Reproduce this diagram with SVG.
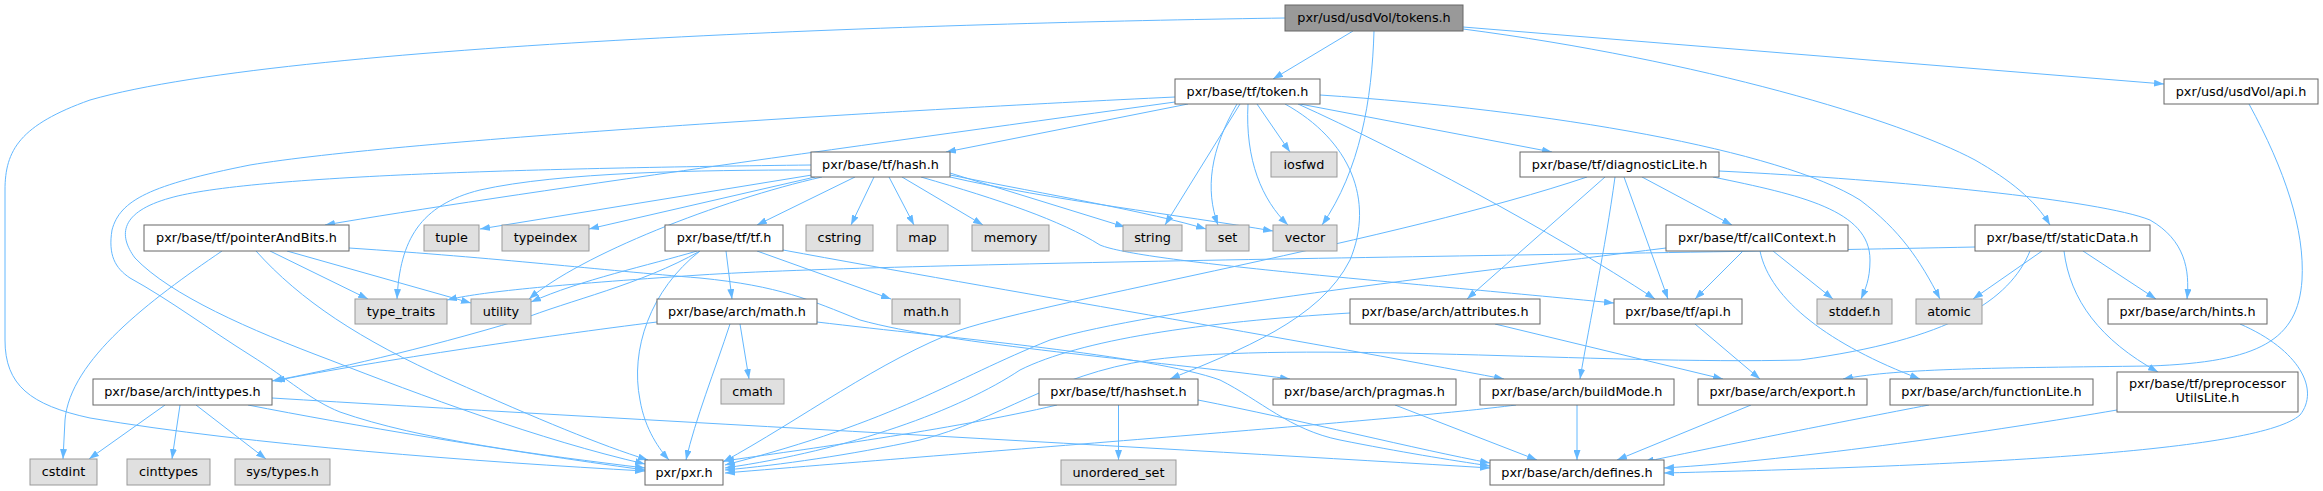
<svg xmlns="http://www.w3.org/2000/svg" width="2323" height="491" viewBox="0 0 2323 491">
<defs>
<marker id="a" viewBox="0 0 10 7" refX="10" refY="3.5" markerWidth="10" markerHeight="7" markerUnits="userSpaceOnUse" orient="auto"><path d="M0,0L10,3.5L0,7z" fill="#63b8ff"/></marker>
</defs>
<style>
.e path{fill:none;stroke:#63b8ff;stroke-width:1;marker-end:url(#a)}
.n rect{fill:#fff;stroke:#666;stroke-width:1}
.g rect{fill:#e0e0e0;stroke:#999;stroke-width:1}
.m rect{fill:#999;stroke:#666;stroke-width:1}
text{font-family:"DejaVu Sans","Liberation Sans",sans-serif;font-size:12.8px;fill:#000;text-anchor:middle}
</style>
<rect width="2323" height="491" fill="#fff"/>
<g class="e" id="edges">
<path d="M1285,18 C1000,22 300,40 90,100 C20,125 5,150 5,190 L5,340 C5,385 30,405 90,418 C250,445 480,462 645,471"/>
<path d="M1353,31 L1273,79"/>
<path d="M1374,31 C1372,100 1360,170 1322,225"/>
<path d="M1463,27 L2164,84"/>
<path d="M1463,29 C1700,60 1900,120 1975,160 C2010,180 2035,200 2050,225"/>
<path d="M2249,104 C2285,170 2305,230 2302,280 C2298,340 2260,362 2150,366 C2000,368 1900,368 1843,379"/>
<path d="M1175,97 C900,110 400,140 250,165 C150,185 120,200 112,230 C108,255 115,268 130,278 C170,300 210,330 250,355 C290,380 310,400 340,412 C420,440 540,455 645,468"/>
<path d="M811,165 C550,168 250,175 170,198 C120,212 118,235 135,258 C170,295 250,330 330,360 C420,395 540,440 645,464"/>
<path d="M811,170 C700,170 560,172 480,190 C420,205 400,240 397,299"/>
<path d="M812,175 L480,229"/>
<path d="M815,177 L589,229"/>
<path d="M822,177 C720,200 580,255 529,299"/>
<path d="M855,177 L757,225"/>
<path d="M874,177 L851,225"/>
<path d="M889,177 L914,225"/>
<path d="M902,177 L983,225"/>
<path d="M950,173 L1125,227"/>
<path d="M950,175 C1050,195 1150,212 1206,229"/>
<path d="M950,177 C1050,200 1180,215 1273,231"/>
<path d="M921,177 C1000,200 1060,220 1100,245 C1140,262 1400,282 1614,303"/>
<path d="M1175,102 C900,140 500,195 325,225"/>
<path d="M1188,104 L946,152"/>
<path d="M1240,104 L1165,225"/>
<path d="M1237,104 C1210,150 1205,190 1218,225"/>
<path d="M1248,104 C1245,160 1262,200 1288,225"/>
<path d="M1257,104 L1290,152"/>
<path d="M1285,104 C1350,140 1375,200 1350,260 C1320,320 1240,350 1170,379"/>
<path d="M1300,104 L1552,152"/>
<path d="M1298,104 C1400,150 1550,230 1655,299"/>
<path d="M1320,95 C1550,110 1780,150 1860,200 C1900,230 1920,260 1940,299"/>
<path d="M1587,177 C1400,240 1050,300 960,330 C880,360 800,420 723,462"/>
<path d="M1605,177 L1467,299"/>
<path d="M1615,177 C1605,250 1590,320 1580,379"/>
<path d="M1624,177 L1668,299"/>
<path d="M1642,177 L1732,225"/>
<path d="M1713,177 C1800,195 1870,210 1870,260 C1870,280 1865,290 1861,299"/>
<path d="M1719,171 C1900,180 2100,200 2150,220 C2185,240 2190,270 2187,299"/>
<path d="M1666,248 C1450,275 1150,310 1050,340 C950,380 900,420 725,465"/>
<path d="M1743,251 L1695,299"/>
<path d="M1773,251 L1833,299"/>
<path d="M1760,251 C1770,300 1830,345 1920,379"/>
<path d="M1975,247 C1600,255 900,262 700,275 C550,285 480,292 447,300"/>
<path d="M2030,251 C2010,300 1950,340 1800,360 C1600,365 1300,340 1150,360 C1050,375 1000,420 920,440 C850,455 780,465 725,470"/>
<path d="M2042,251 L1973,299"/>
<path d="M2083,251 L2156,299"/>
<path d="M2064,251 C2070,300 2100,340 2158,372"/>
<path d="M222,251 C150,300 70,360 65,420 L63,459"/>
<path d="M256,251 C300,300 360,340 450,380 C540,420 600,445 648,460"/>
<path d="M270,251 L368,299"/>
<path d="M287,251 L471,303"/>
<path d="M349,248 C500,258 600,270 700,278 C780,286 810,300 860,320 C950,345 1150,360 1290,379"/>
<path d="M697,251 C650,265 580,280 531,302"/>
<path d="M700,251 C640,285 570,300 520,320 C420,350 330,370 272,381"/>
<path d="M726,251 L732,299"/>
<path d="M757,251 L891,299"/>
<path d="M700,251 C650,290 630,350 640,400 C645,430 660,450 669,460"/>
<path d="M783,250 C1000,290 1300,340 1504,379"/>
<path d="M657,322 C550,335 350,365 275,381"/>
<path d="M740,324 L749,379"/>
<path d="M730,324 C715,370 695,420 686,460"/>
<path d="M817,322 C950,338 1150,355 1220,380 C1260,400 1290,430 1340,440 C1400,452 1450,460 1490,466"/>
<path d="M165,405 L89,459"/>
<path d="M180,405 L172,459"/>
<path d="M196,405 L266,459"/>
<path d="M248,405 C350,425 500,450 645,470"/>
<path d="M272,398 C600,418 1200,450 1490,468"/>
<path d="M1118.5,405 L1118.5,460"/>
<path d="M1057,405 C950,430 800,450 724,461"/>
<path d="M1198,400 C1300,420 1420,450 1490,463"/>
<path d="M1350,313 C1200,322 1080,340 1020,370 C960,410 850,450 725,468"/>
<path d="M1495,324 L1723,379"/>
<path d="M1695,324 L1760,379"/>
<path d="M1516,405 C1400,420 1000,450 725,473"/>
<path d="M1577,405 L1577,460"/>
<path d="M1395,405 L1537,460"/>
<path d="M1751,405 L1617,460"/>
<path d="M1929,405 C1850,420 1700,450 1644,462"/>
<path d="M2117,410 C2000,430 1800,460 1664,468"/>
<path d="M2240,324 C2300,350 2320,390 2300,415 C2260,450 2000,465 1664,473"/>
</g>
<g id="tokens" class="m"><rect x="1285" y="5" width="178" height="26"/><text x="1374" y="22">pxr/usd/usdVol/tokens.h</text></g>
<g id="token" class="n"><rect x="1175" y="79" width="145" height="25"/><text x="1247.5" y="96">pxr/base/tf/token.h</text></g>
<g id="usdapi" class="n"><rect x="2164" y="79" width="154" height="25"/><text x="2241" y="96">pxr/usd/usdVol/api.h</text></g>
<g id="hash" class="n"><rect x="811" y="152" width="139" height="25"/><text x="880.5" y="169">pxr/base/tf/hash.h</text></g>
<g id="iosfwd" class="g"><rect x="1271" y="152" width="66" height="25"/><text x="1304" y="169">iosfwd</text></g>
<g id="diag" class="n"><rect x="1520" y="152" width="199" height="25"/><text x="1619.5" y="169">pxr/base/tf/diagnosticLite.h</text></g>
<g id="pab" class="n"><rect x="144" y="225" width="205" height="26"/><text x="246.5" y="242">pxr/base/tf/pointerAndBits.h</text></g>
<g id="tuple" class="g"><rect x="424" y="225" width="55" height="26"/><text x="451.5" y="242">tuple</text></g>
<g id="typeindex" class="g"><rect x="502" y="225" width="87" height="26"/><text x="545.5" y="242">typeindex</text></g>
<g id="tf" class="n"><rect x="665" y="225" width="118" height="26"/><text x="724" y="242">pxr/base/tf/tf.h</text></g>
<g id="cstring" class="g"><rect x="806" y="225" width="67" height="26"/><text x="839.5" y="242">cstring</text></g>
<g id="map" class="g"><rect x="897" y="225" width="51" height="26"/><text x="922.5" y="242">map</text></g>
<g id="memory" class="g"><rect x="972" y="225" width="77" height="26"/><text x="1010.5" y="242">memory</text></g>
<g id="string" class="g"><rect x="1123" y="225" width="59" height="26"/><text x="1152.5" y="242">string</text></g>
<g id="set" class="g"><rect x="1206" y="225" width="43" height="26"/><text x="1227.5" y="242">set</text></g>
<g id="vector" class="g"><rect x="1273" y="225" width="64" height="26"/><text x="1305" y="242">vector</text></g>
<g id="callctx" class="n"><rect x="1666" y="225" width="182" height="26"/><text x="1757" y="242">pxr/base/tf/callContext.h</text></g>
<g id="staticdata" class="n"><rect x="1975" y="225" width="175" height="26"/><text x="2062.5" y="242">pxr/base/tf/staticData.h</text></g>
<g id="typetraits" class="g"><rect x="355" y="299" width="92" height="25"/><text x="401" y="316">type_traits</text></g>
<g id="utility" class="g"><rect x="471" y="299" width="60" height="25"/><text x="501" y="316">utility</text></g>
<g id="archmath" class="n"><rect x="657" y="299" width="160" height="25"/><text x="737" y="316">pxr/base/arch/math.h</text></g>
<g id="mathh" class="g"><rect x="892" y="299" width="68" height="25"/><text x="926" y="316">math.h</text></g>
<g id="attributes" class="n"><rect x="1350" y="299" width="190" height="25"/><text x="1445" y="316">pxr/base/arch/attributes.h</text></g>
<g id="tfapi" class="n"><rect x="1614" y="299" width="128" height="25"/><text x="1678" y="316">pxr/base/tf/api.h</text></g>
<g id="stddef" class="g"><rect x="1817" y="299" width="75" height="25"/><text x="1854.5" y="316">stddef.h</text></g>
<g id="atomic" class="g"><rect x="1916" y="299" width="66" height="25"/><text x="1949" y="316">atomic</text></g>
<g id="hints" class="n"><rect x="2108" y="299" width="159" height="25"/><text x="2187.5" y="316">pxr/base/arch/hints.h</text></g>
<g id="inttypes" class="n"><rect x="93" y="379" width="179" height="26"/><text x="182.5" y="396">pxr/base/arch/inttypes.h</text></g>
<g id="cmath" class="g"><rect x="721" y="379" width="63" height="25"/><text x="752.5" y="396">cmath</text></g>
<g id="hashset" class="n"><rect x="1039" y="379" width="159" height="26"/><text x="1118.5" y="396">pxr/base/tf/hashset.h</text></g>
<g id="pragmas" class="n"><rect x="1273" y="379" width="183" height="26"/><text x="1364.5" y="396">pxr/base/arch/pragmas.h</text></g>
<g id="buildmode" class="n"><rect x="1480" y="379" width="194" height="26"/><text x="1577" y="396">pxr/base/arch/buildMode.h</text></g>
<g id="export" class="n"><rect x="1698" y="379" width="169" height="26"/><text x="1782.5" y="396">pxr/base/arch/export.h</text></g>
<g id="functionlite" class="n"><rect x="1890" y="379" width="203" height="26"/><text x="1991.5" y="396">pxr/base/arch/functionLite.h</text></g>
<g id="preproc" class="n"><rect x="2117" y="372" width="181" height="40"/><text x="2207.5" y="388">pxr/base/tf/preprocessor</text><text x="2207.5" y="402">UtilsLite.h</text></g>
<g id="cstdint" class="g"><rect x="30" y="459" width="67" height="26"/><text x="63.5" y="476">cstdint</text></g>
<g id="cinttypes" class="g"><rect x="127" y="459" width="83" height="26"/><text x="168.5" y="476">cinttypes</text></g>
<g id="systypes" class="g"><rect x="235" y="459" width="95" height="26"/><text x="282.5" y="476">sys/types.h</text></g>
<g id="pxr" class="n"><rect x="645" y="460" width="78" height="25"/><text x="684" y="477">pxr/pxr.h</text></g>
<g id="unorderedset" class="g"><rect x="1061" y="460" width="115" height="25"/><text x="1118.5" y="477">unordered_set</text></g>
<g id="defines" class="n"><rect x="1490" y="460" width="174" height="25"/><text x="1577" y="477">pxr/base/arch/defines.h</text></g>
</svg>
